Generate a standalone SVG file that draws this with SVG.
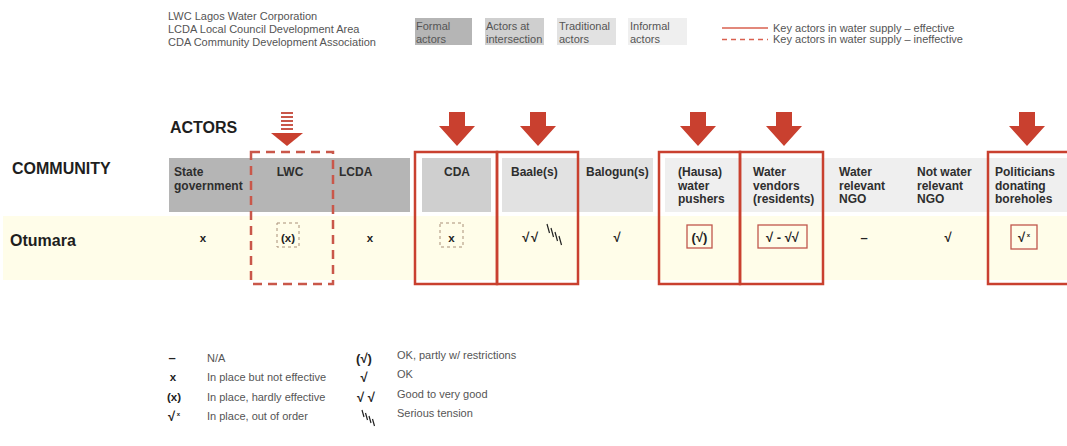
<svg xmlns="http://www.w3.org/2000/svg" width="1067" height="446" viewBox="0 0 1067 446">
<style>
text{font-family:"Liberation Sans",Arial,Helvetica,sans-serif}
.t{font-size:11px;fill:#555}
.h{font-size:12px;font-weight:bold;fill:#2e2e2e}
.big{font-size:16px;font-weight:bold;fill:#1e1e1e}
.v{font-size:11.5px;font-weight:bold;fill:#222}
.ck{font-size:13px;font-weight:bold;fill:#222}
.red{fill:none;stroke:#c9402f;stroke-width:2.5}
.reddash{fill:none;stroke:#c9574a;stroke-width:2.5;stroke-dasharray:9 6}
.sb{fill:none;stroke:#c0574c;stroke-width:1.3}
.db{fill:none;stroke:#a98f78;stroke-width:1;stroke-dasharray:3 3}
.arrow{fill:#c9402f}
.hatch{stroke:#222;stroke-width:1.2;fill:none}
.formal{fill:#b5b5b5}
.inter{fill:#cfcfcf}
.trad{fill:#e2e2e2}
.informal{fill:#efefef}
</style>
<rect width="1067" height="446" fill="#ffffff"/>

<g id="legend-top">
<text class="t" x="168" y="20">LWC Lagos Water Corporation</text>
<text class="t" x="168" y="33">LCDA Local Council Development Area</text>
<text class="t" x="168" y="46">CDA Community Development Association</text>
<rect class="formal" x="415" y="18" width="57" height="27"/>
<text class="t" x="416" y="29.5">Formal</text><text class="t" x="416" y="42.5">actors</text>
<rect class="inter" x="485" y="18" width="59" height="27"/>
<text class="t" x="486" y="29.5">Actors at</text><text class="t" x="486" y="42.5">intersection</text>
<rect class="trad" x="557" y="18" width="59" height="27"/>
<text class="t" x="559" y="29.5">Traditional</text><text class="t" x="559" y="42.5">actors</text>
<rect class="informal" x="628" y="18" width="59" height="27"/>
<text class="t" x="630" y="29.5">Informal</text><text class="t" x="630" y="42.5">actors</text>
<line x1="722" y1="28" x2="768" y2="28" stroke="#d9604f" stroke-width="1.3"/>
<text class="t" x="773" y="31.5">Key actors in water supply – effective</text>
<line x1="722" y1="39.5" x2="768" y2="39.5" stroke="#d9604f" stroke-width="1.3" stroke-dasharray="5 4"/>
<text class="t" x="773" y="43">Key actors in water supply – ineffective</text>
</g>

<g id="row-bg">
<rect x="3" y="216" width="1064" height="64" fill="#fffde9"/>
<rect class="formal" x="169" y="158" width="241" height="54"/>
<rect class="inter" x="422" y="158" width="69" height="54"/>
<rect class="trad" x="502" y="158" width="151" height="54"/>
<rect class="informal" x="665" y="158" width="402" height="54"/>
</g>

<g id="titles">
<text class="big" x="170" y="133">ACTORS</text>
<text class="big" x="12" y="174">COMMUNITY</text>
<text class="big" x="10" y="246">Otumara</text>
</g>

<g id="state-government">
<text class="h" x="174" y="176">State</text><text class="h" x="174" y="189.5">government</text>
<text class="v" x="203" y="242" text-anchor="middle">x</text>
</g>
<g id="lwc">
<text class="h" x="290" y="176" text-anchor="middle">LWC</text>
<rect class="db" x="277" y="223" width="22" height="24"/>
<text class="v" x="288" y="242" text-anchor="middle">(x)</text>
<rect class="reddash" x="251" y="152" width="82" height="132"/>
</g>
<g id="lcda">
<text class="h" x="339" y="176">LCDA</text>
<text class="v" x="370" y="242" text-anchor="middle">x</text>
</g>
<g id="cda">
<text class="h" x="457" y="176" text-anchor="middle">CDA</text>
<rect class="db" x="440" y="223" width="23" height="24"/>
<text class="v" x="451.5" y="242" text-anchor="middle">x</text>
<rect class="red" x="415" y="152" width="82" height="132"/>
</g>
<g id="baale">
<text class="h" x="511" y="176">Baale(s)</text>
<text class="ck" x="531" y="242" text-anchor="middle" letter-spacing="1.5">√√</text>
<path class="hatch" d="M547,224 L549.5,233 M551,228 L553.5,237 M555,232 L557.5,241 M559,236 L561.5,245"/>
<rect class="red" x="497" y="152" width="81" height="132"/>
</g>
<g id="balogun">
<text class="h" x="586" y="176">Balogun(s)</text>
<text class="ck" x="617" y="242" text-anchor="middle">√</text>
</g>
<g id="hausa">
<text class="h" x="678" y="176">(Hausa)</text><text class="h" x="678" y="189.5">water</text><text class="h" x="678" y="203">pushers</text>
<rect class="sb" x="687" y="225" width="25" height="23"/>
<text class="ck" x="699.5" y="242" text-anchor="middle">(√)</text>
<rect class="red" x="659" y="152" width="81" height="132"/>
</g>
<g id="water-vendors">
<text class="h" x="753" y="176">Water</text><text class="h" x="753" y="189.5">vendors</text><text class="h" x="753" y="203">(residents)</text>
<rect class="sb" x="758" y="225" width="49" height="23"/>
<text class="ck" x="782.5" y="242" text-anchor="middle">√ - √√</text>
<rect class="red" x="740" y="152" width="83" height="132"/>
</g>
<g id="water-ngo">
<text class="h" x="839" y="176">Water</text><text class="h" x="839" y="189.5">relevant</text><text class="h" x="839" y="203">NGO</text>
<text class="ck" x="864" y="242" text-anchor="middle">–</text>
</g>
<g id="not-water-ngo">
<text class="h" x="917" y="176">Not water</text><text class="h" x="917" y="189.5">relevant</text><text class="h" x="917" y="203">NGO</text>
<text class="ck" x="948" y="242" text-anchor="middle">√</text>
</g>
<g id="politicians">
<text class="h" x="995" y="176">Politicians</text><text class="h" x="995" y="189.5">donating</text><text class="h" x="995" y="203">boreholes</text>
<rect class="sb" x="1011" y="225" width="26" height="24"/>
<text class="ck" x="1024" y="242" text-anchor="middle">√<tspan font-size="6" dy="-5"> x</tspan></text>
<rect class="red" x="988" y="152" width="82" height="132"/>
</g>

<g id="connectors">
<g fill="#c9574a">
<rect x="281" y="112" width="12" height="2"/>
<rect x="281" y="116" width="12" height="2"/>
<rect x="281" y="120" width="12" height="2"/>
<rect x="281" y="124" width="12" height="2"/>
<rect x="281" y="128" width="12" height="2"/>
<path d="M271,133 H303 L287,146 Z" fill="#c9402f"/>
</g>
<path class="arrow" d="M449,112 h16 v14 h10 l-18,20 l-18,-20 h10 z"/>
<path class="arrow" d="M530,112 h16 v14 h10 l-18,20 l-18,-20 h10 z"/>
<path class="arrow" d="M690,112 h16 v14 h10 l-18,20 l-18,-20 h10 z"/>
<path class="arrow" d="M776,112 h16 v14 h10 l-18,20 l-18,-20 h10 z"/>
<path class="arrow" d="M1019,112 h16 v14 h10 l-18,20 l-18,-20 h10 z"/>
</g>

<g id="legend-bottom">
<text class="ck" x="172" y="362" text-anchor="middle">–</text>
<text class="t" x="207" y="362">N/A</text>
<text class="v" x="173" y="381" text-anchor="middle">x</text>
<text class="t" x="207" y="381">In place but not effective</text>
<text class="v" x="174" y="401" text-anchor="middle">(x)</text>
<text class="t" x="207" y="401">In place, hardly effective</text>
<text class="ck" x="168" y="421">√<tspan font-size="6" dy="-5"> x</tspan></text>
<text class="t" x="207" y="420">In place, out of order</text>
<text class="ck" x="364" y="363" text-anchor="middle">(√)</text>
<text class="t" x="397" y="359">OK, partly w/ restrictions</text>
<text class="ck" x="364" y="382" text-anchor="middle">√</text>
<text class="t" x="397" y="378">OK</text>
<text class="ck" x="366" y="402" text-anchor="middle">√ √</text>
<text class="t" x="397" y="398">Good to very good</text>
<path class="hatch" d="M362,410 L364,417 M365.5,413 L367.5,420 M369,416 L371,423 M372.5,419 L374.5,426"/>
<text class="t" x="397" y="417">Serious tension</text>
</g>
</svg>
